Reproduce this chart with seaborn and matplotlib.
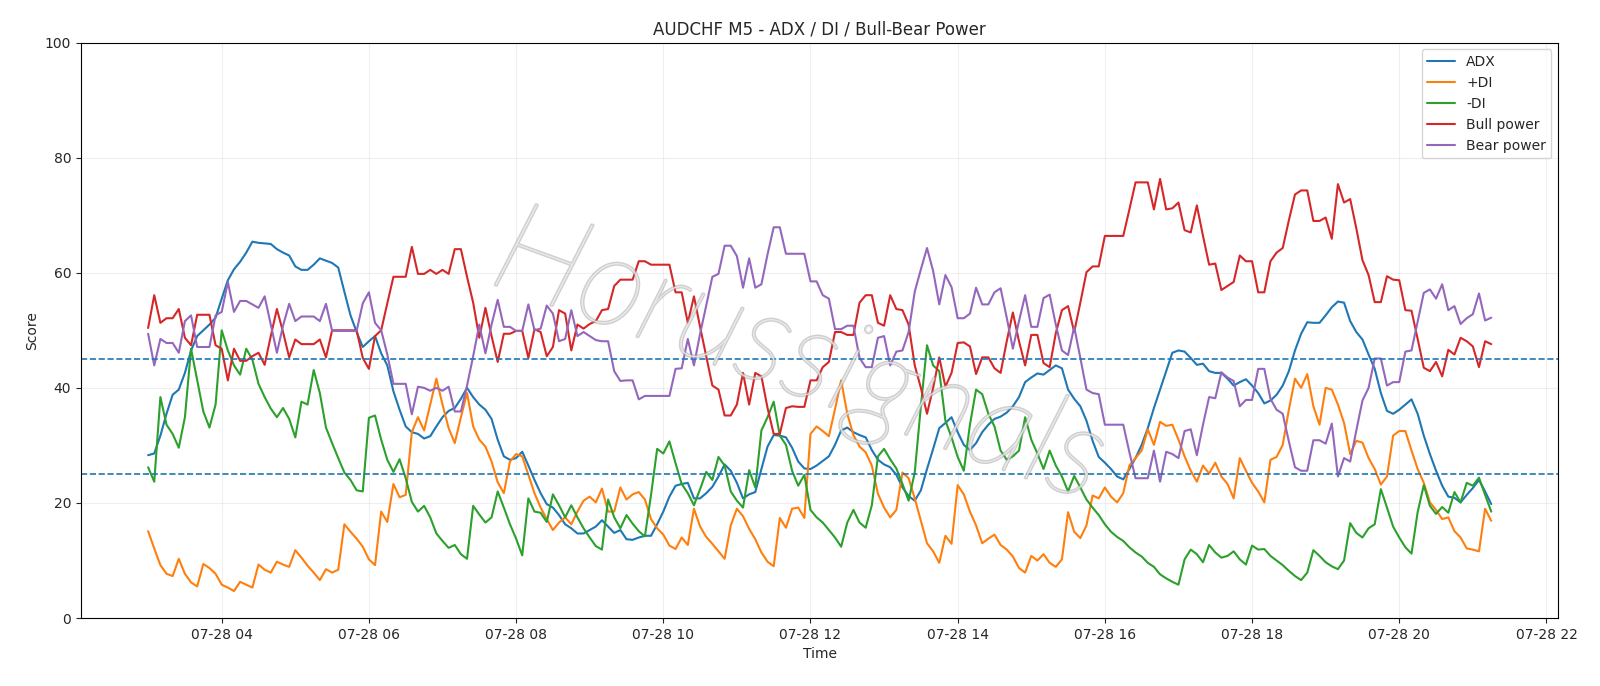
import matplotlib
matplotlib.use("Agg")
import matplotlib.pyplot as plt
import matplotlib.patheffects as pe
import seaborn as sns
import pandas as pd

# 5-minute bars, 03:00 -> 21:15
start = "2025-07-28 03:00"
n_bars = 220

adx = [
    28.3, 28.6, 31.7, 35.5, 38.8, 39.7, 42.6, 46.5, 49.0, 50.0, 51.0, 52.2, 55.5, 58.7, 60.6, 61.9, 63.5, 65.4, 65.2, 65.1,
    65.0, 64.1, 63.5, 63.0, 61.1, 60.5, 60.5, 61.4, 62.5, 62.1, 61.7, 60.9, 56.7, 52.6, 49.7, 47.1, 48.1, 49.0, 46.0,
    43.9, 39.4, 36.2, 33.3, 32.3, 32.0, 31.2, 31.6, 33.3, 34.9, 36.0, 36.5, 38.1, 40.0, 38.4, 37.1, 36.2, 34.6, 31.0, 28.1,
    27.5, 27.8, 28.9, 26.5, 24.0, 21.7, 19.8, 19.2, 17.9, 16.3, 15.6, 14.7, 14.7, 15.3, 15.9, 17.0, 15.9, 14.8, 15.3,
    13.7, 13.6, 14.0, 14.3, 14.3, 16.3, 18.5, 21.1, 23.0, 23.3, 23.5, 20.8, 20.8, 21.7, 22.8, 24.6, 26.7, 25.6, 23.5, 20.8,
    21.5, 21.9, 25.9, 29.8, 31.8, 31.7, 31.4, 29.6, 27.2, 26.0, 25.9, 26.5, 27.3, 28.1, 30.1, 32.6, 33.1, 32.3, 31.8,
    31.4, 29.2, 27.5, 26.7, 26.2, 24.9, 22.7, 21.2, 20.4, 22.2, 25.9, 29.4, 33.0, 33.9, 34.9, 32.3, 30.1, 29.2, 30.4, 32.3,
    33.6, 34.6, 35.0, 35.7, 36.8, 38.4, 41.0, 41.8, 42.5, 42.3, 43.1, 43.9, 43.4, 39.7, 38.1, 36.8, 34.3, 30.8, 28.0,
    27.0, 25.9, 24.6, 24.1, 25.9, 27.8, 30.1, 33.0, 36.5, 39.7, 42.9, 46.1, 46.5, 46.3, 45.2, 44.0, 44.2, 42.9, 42.6, 42.6,
    41.6, 40.4, 41.0, 41.5, 40.4, 39.1, 37.3, 37.8, 38.8, 40.4, 42.9, 46.5, 49.4, 51.4, 51.3, 51.3, 52.6, 54.0, 55.0,
    54.8, 51.6, 49.7, 48.4, 45.8, 43.3, 39.1, 36.0, 35.5, 36.2, 37.1, 38.0, 35.5, 31.7, 28.5, 25.6, 23.0, 21.1, 20.9, 20.1,
    21.4, 22.6, 24.0, 22.0, 19.8,
]

plus_di = [
    15.1, 12.1, 9.2, 7.7, 7.3, 10.3, 7.7, 6.2, 5.5, 9.4, 8.7, 7.7, 5.8, 5.3, 4.7, 6.3, 5.8, 5.3, 9.3, 8.4,
    7.9, 9.8, 9.3, 8.9, 11.8, 10.5, 9.1, 7.9, 6.6, 8.5, 7.9, 8.4, 16.3, 15.0, 13.8, 12.4, 10.2, 9.2, 18.5,
    16.7, 23.3, 21.0, 21.4, 32.3, 34.9, 32.6, 37.1, 41.6, 37.1, 33.0, 30.4, 34.9, 39.1, 33.3, 31.0, 29.8, 27.2, 23.6, 21.7,
    27.2, 28.5, 28.1, 24.9, 21.7, 19.2, 17.2, 15.3, 16.6, 17.5, 16.3, 18.5, 20.4, 21.1, 20.1, 22.5, 18.5, 18.5, 22.7,
    20.6, 21.5, 21.9, 20.6, 17.2, 15.6, 14.5, 12.6, 12.0, 14.0, 12.7, 19.0, 15.9, 14.1, 12.9, 11.6, 10.3, 16.1, 19.0, 17.7,
    15.5, 13.7, 11.4, 9.8, 9.0, 17.4, 15.7, 19.0, 19.2, 17.4, 32.0, 33.3, 32.5, 31.6, 36.3, 41.3, 35.5, 31.8, 29.8,
    28.8, 26.5, 21.6, 19.2, 17.5, 18.8, 25.3, 24.3, 20.8, 16.9, 13.0, 11.6, 9.6, 14.3, 12.9, 23.1, 21.5, 18.5, 16.1, 13.0,
    13.8, 14.5, 12.7, 11.9, 10.7, 8.7, 7.9, 10.8, 10.0, 11.1, 9.6, 8.9, 10.2, 18.4, 15.0, 13.9, 16.1, 21.3, 20.8,
    22.7, 21.1, 20.1, 21.7, 26.5, 27.8, 29.1, 32.8, 30.1, 34.1, 33.4, 33.6, 31.0, 28.1, 25.6, 23.7, 26.5, 25.1, 27.0, 24.6,
    23.3, 20.8, 27.8, 25.6, 23.5, 22.0, 20.1, 27.5, 28.0, 30.1, 36.2, 41.6, 40.0, 42.4, 36.8, 33.6, 40.0, 39.7, 37.1,
    33.9, 28.5, 30.8, 30.5, 27.8, 25.9, 23.2, 24.6, 31.7, 32.5, 32.5, 29.1, 25.9, 23.5, 20.1, 18.8, 17.2, 17.5, 15.1, 14.0,
    12.1, 11.9, 11.6, 19.0, 16.9,
]

minus_di = [
    26.2, 23.7, 38.4, 33.6, 32.0, 29.6, 34.9, 46.8, 41.3, 35.9, 33.1, 37.1, 50.0, 46.5, 43.9, 42.3, 46.8, 44.9, 40.7, 38.4,
    36.4, 34.9, 36.5, 34.6, 31.4, 37.6, 37.1, 43.1, 39.1, 33.1, 30.4, 27.8, 25.3, 24.0, 22.2, 22.0, 34.8, 35.2, 31.0,
    27.5, 25.4, 27.6, 24.3, 20.2, 18.5, 19.5, 17.5, 14.7, 13.4, 12.2, 12.7, 11.1, 10.3, 19.5, 18.0, 16.6, 17.5, 22.0, 19.2,
    16.3, 13.8, 10.9, 20.8, 18.5, 18.3, 16.7, 21.5, 19.6, 17.5, 19.6, 17.5, 15.6, 14.0, 12.5, 11.9, 20.6, 17.5, 15.6,
    17.9, 16.4, 15.1, 14.2, 21.4, 29.4, 28.6, 30.7, 26.9, 23.3, 21.7, 19.6, 22.4, 25.4, 24.0, 28.0, 26.5, 22.0, 20.4, 19.2,
    25.7, 22.7, 32.6, 34.9, 37.6, 31.7, 30.1, 25.6, 23.0, 24.9, 18.8, 17.5, 16.6, 15.3, 14.0, 12.4, 16.6, 18.8, 16.6,
    15.7, 19.6, 28.1, 29.4, 27.6, 26.0, 23.3, 20.4, 25.3, 36.8, 47.4, 43.9, 42.9, 34.3, 31.4, 28.0, 25.6, 33.6, 39.7, 38.9,
    35.5, 33.3, 29.1, 27.5, 28.1, 29.1, 34.9, 31.0, 28.6, 25.9, 29.1, 26.5, 24.6, 22.0, 24.7, 22.7, 20.6, 19.2, 17.9,
    16.3, 15.0, 14.1, 13.4, 12.3, 11.4, 10.7, 9.6, 8.9, 7.6, 6.9, 6.3, 5.8, 10.2, 11.9, 11.1, 9.7, 12.7, 11.4, 10.5,
    10.8, 11.6, 10.2, 9.3, 12.6, 11.9, 12.0, 10.8, 10.0, 9.2, 8.2, 7.3, 6.6, 7.9, 11.8, 10.8, 9.7, 9.0, 8.5,
    10.0, 16.5, 14.8, 14.0, 15.6, 16.3, 22.4, 19.2, 15.9, 14.0, 12.3, 11.2, 18.4, 23.1, 19.5, 18.1, 19.3, 18.3, 21.9, 20.1,
    23.5, 23.0, 24.4, 21.4, 18.5,
]

bull_power = [
    50.4, 56.1, 51.3, 52.1, 52.1, 53.7, 48.7, 47.4, 52.7, 52.7, 52.7, 47.4, 46.8, 41.3, 46.8, 44.7, 44.7, 45.5, 46.1, 44.0,
    49.0, 53.7, 49.7, 45.3, 48.4, 47.6, 47.6, 47.6, 48.4, 45.3, 50.0, 50.0, 50.0, 50.0, 50.0, 45.2, 43.3, 49.0, 50.0,
    54.7, 59.3, 59.3, 59.3, 64.5, 59.8, 59.8, 60.5, 59.8, 60.5, 59.8, 64.1, 64.1, 59.3, 54.8, 48.7, 53.9, 49.0, 44.5, 49.4,
    49.4, 49.9, 49.9, 45.2, 50.2, 49.7, 45.5, 47.1, 53.5, 52.9, 46.5, 51.0, 50.3, 51.1, 51.6, 53.5, 53.7, 57.7, 58.8,
    58.8, 58.8, 62.0, 62.0, 61.4, 61.4, 61.4, 61.4, 56.6, 56.6, 51.3, 55.9, 50.6, 45.5, 40.4, 39.7, 35.2, 35.2, 37.1, 42.6,
    37.1, 42.6, 42.0, 36.5, 32.0, 32.0, 36.5, 36.8, 36.7, 36.7, 41.3, 41.3, 43.6, 44.5, 49.7, 49.7, 49.2, 49.2, 54.8,
    56.1, 56.1, 51.3, 50.8, 56.1, 53.7, 53.5, 51.0, 43.9, 40.0, 35.5, 40.0, 45.3, 40.2, 42.6, 47.8, 47.9, 47.2, 42.4, 45.3,
    45.3, 43.4, 42.6, 48.1, 53.1, 48.1, 43.9, 49.2, 49.2, 44.3, 43.6, 49.5, 53.5, 54.2, 49.7, 54.8, 60.1, 61.1, 61.1,
    66.4, 66.4, 66.4, 66.4, 71.0, 75.7, 75.7, 75.7, 71.0, 76.3, 71.0, 71.2, 72.2, 67.4, 67.0, 71.7, 66.4, 61.4, 61.6, 57.0,
    57.7, 58.4, 63.0, 62.0, 62.0, 56.6, 56.6, 62.0, 63.5, 64.3, 69.1, 73.6, 74.3, 74.3, 69.0, 69.0, 69.6, 65.9, 75.4,
    72.2, 72.8, 67.7, 62.2, 59.6, 54.9, 54.9, 59.4, 58.8, 58.7, 53.5, 53.4, 48.5, 43.5, 42.9, 44.5, 42.0, 46.6, 45.8, 48.7,
    48.1, 47.2, 43.6, 48.1, 47.6,
]

bear_power = [
    49.4, 43.9, 48.5, 47.8, 47.8, 46.1, 51.6, 52.6, 47.1, 47.1, 47.1, 52.6, 53.2, 58.4, 53.2, 55.1, 55.1, 54.5, 53.9, 55.9,
    51.0, 46.1, 50.8, 54.6, 51.6, 52.4, 52.4, 52.4, 51.6, 54.6, 49.9, 49.9, 49.9, 49.9, 49.9, 54.7, 56.6, 51.3, 50.0,
    45.8, 40.7, 40.7, 40.7, 35.4, 40.2, 40.0, 39.5, 40.0, 39.5, 40.2, 35.9, 35.9, 40.4, 45.5, 51.0, 46.0, 51.0, 55.3, 50.6,
    50.6, 49.9, 49.9, 54.5, 50.0, 50.3, 54.3, 52.9, 48.1, 48.5, 53.5, 49.0, 49.7, 49.0, 48.3, 48.1, 48.1, 42.9, 41.2,
    41.3, 41.3, 38.0, 38.6, 38.6, 38.6, 38.6, 38.6, 43.3, 43.4, 48.5, 43.9, 49.4, 54.3, 59.3, 59.8, 64.7, 64.7, 62.9, 57.4,
    62.5, 57.4, 58.0, 63.2, 67.9, 67.9, 63.3, 63.3, 63.3, 63.3, 58.5, 58.5, 56.1, 55.5, 50.2, 50.2, 50.8, 50.8, 45.2,
    43.6, 43.6, 48.7, 49.0, 43.9, 46.3, 46.5, 49.7, 56.7, 60.6, 64.3, 60.3, 54.5, 59.6, 57.5, 52.1, 52.1, 52.9, 57.4, 54.5,
    54.5, 56.6, 57.3, 52.2, 46.8, 51.6, 56.1, 50.6, 50.6, 55.6, 56.2, 51.0, 46.5, 45.7, 50.6, 45.2, 39.7, 39.1, 38.9,
    33.6, 33.6, 33.6, 33.6, 28.8, 24.3, 24.3, 24.3, 29.1, 23.7, 28.9, 28.5, 27.8, 32.5, 32.8, 28.3, 33.6, 38.4, 38.2, 42.7,
    41.8, 41.2, 36.8, 37.9, 37.9, 43.3, 43.3, 38.1, 36.2, 35.5, 30.7, 26.2, 25.6, 25.6, 30.9, 30.9, 30.3, 33.8, 24.6,
    27.8, 27.2, 32.6, 37.8, 40.0, 45.1, 45.1, 40.4, 41.0, 41.0, 46.3, 46.5, 51.5, 56.5, 57.1, 55.5, 58.0, 53.5, 54.2, 51.1,
    52.1, 52.8, 56.4, 51.7, 52.2,
]

levels = [25, 45]

df = pd.DataFrame({
    "Time": pd.date_range(start, periods=n_bars, freq="5min"),
    "ADX": adx,
    "+DI": plus_di,
    "-DI": minus_di,
    "Bull power": bull_power,
    "Bear power": bear_power,
})

sns.set_style("ticks")
plt.rcParams["font.family"] = ["DejaVu Sans"]

fig, ax = plt.subplots(figsize=(16, 6.86), dpi=100)
fig.subplots_adjust(left=0.0506, right=0.974, top=0.938, bottom=0.099)

colors = ["tab:blue", "tab:orange", "tab:green", "tab:red", "tab:purple"]
for col, c in zip(["ADX", "+DI", "-DI", "Bull power", "Bear power"], colors):
    sns.lineplot(data=df, x="Time", y=col, ax=ax, color=c, label=col, linewidth=1.5)

for lv in levels:
    ax.axhline(lv, color="tab:blue", linestyle="--", linewidth=1.2)

# watermark, thin hollow letters
ax.text(0.486, 0.45, "Horussignals", transform=ax.transAxes, fontsize=92,
        family=["Lato", "DejaVu Sans"], fontweight="light",
        fontstyle="italic", rotation=-20, ha="center", va="center",
        color="white", alpha=0.55, zorder=5,
        path_effects=[pe.withStroke(linewidth=2.0, foreground="#a8a8a8")])

ax.set_ylim(0, 100)
ax.set_title("AUDCHF M5 - ADX / DI / Bull-Bear Power", fontsize=12)
ax.set_xlabel("Time")
ax.set_ylabel("Score")
ax.grid(True, alpha=0.3)
for s in ax.spines.values():
    s.set_visible(True)
    s.set_color("black")
ax.legend(loc="upper right")

fig.savefig("out.png", dpi=100)
